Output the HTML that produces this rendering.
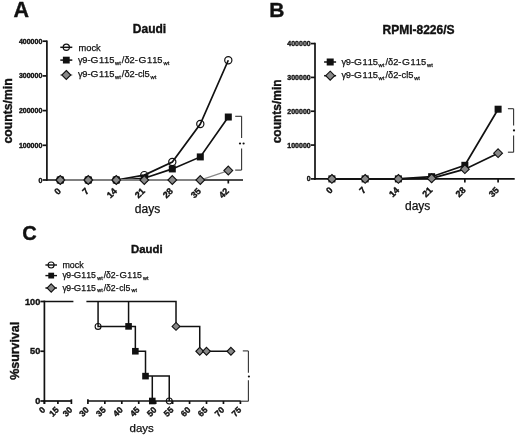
<!DOCTYPE html>
<html><head><meta charset="utf-8"><style>
html,body{margin:0;padding:0;background:#fff;}
svg{display:block;will-change:transform;}
text{font-family:"Liberation Sans",sans-serif;fill:#111;}
.lg{font-kerning:none;}
text{stroke:#111;stroke-width:0.25px;}
text[font-weight=bold]{stroke-width:0.38px;}
</style></head><body>
<svg width="520" height="438" viewBox="0 0 520 438">
<rect width="520" height="438" fill="#fff"/>
<text x="13.60" y="17.20" font-size="21.5" font-weight="bold" text-anchor="start" >A</text>
<text x="149.50" y="33.10" font-size="12" font-weight="bold" text-anchor="middle" >Daudi</text>
<line x1="46.90" y1="40.40" x2="46.90" y2="180.80" stroke="#111" stroke-width="1.7" stroke-linecap="butt"/>
<line x1="42.60" y1="180.00" x2="46.90" y2="180.00" stroke="#111" stroke-width="1.7" stroke-linecap="butt"/>
<text x="42.30" y="182.50" font-size="7" font-weight="bold" text-anchor="end" >0</text>
<line x1="42.60" y1="145.30" x2="46.90" y2="145.30" stroke="#111" stroke-width="1.7" stroke-linecap="butt"/>
<text x="42.30" y="147.80" font-size="7" font-weight="bold" text-anchor="end" >100000</text>
<line x1="42.60" y1="110.60" x2="46.90" y2="110.60" stroke="#111" stroke-width="1.7" stroke-linecap="butt"/>
<text x="42.30" y="113.10" font-size="7" font-weight="bold" text-anchor="end" >200000</text>
<line x1="42.60" y1="75.90" x2="46.90" y2="75.90" stroke="#111" stroke-width="1.7" stroke-linecap="butt"/>
<text x="42.30" y="78.40" font-size="7" font-weight="bold" text-anchor="end" >300000</text>
<line x1="42.60" y1="41.20" x2="46.90" y2="41.20" stroke="#111" stroke-width="1.7" stroke-linecap="butt"/>
<text x="42.30" y="43.70" font-size="7" font-weight="bold" text-anchor="end" >400000</text>
<line x1="46.00" y1="180.00" x2="243.00" y2="180.00" stroke="#111" stroke-width="1.7" stroke-linecap="butt"/>
<line x1="60.30" y1="180.00" x2="60.30" y2="183.50" stroke="#111" stroke-width="1.7" stroke-linecap="butt"/>
<text transform="translate(61.60,191.60) rotate(-45)" font-size="9" font-weight="bold" text-anchor="end">0</text>
<line x1="88.30" y1="180.00" x2="88.30" y2="183.50" stroke="#111" stroke-width="1.7" stroke-linecap="butt"/>
<text transform="translate(89.60,191.60) rotate(-45)" font-size="9" font-weight="bold" text-anchor="end">7</text>
<line x1="116.30" y1="180.00" x2="116.30" y2="183.50" stroke="#111" stroke-width="1.7" stroke-linecap="butt"/>
<text transform="translate(117.60,191.60) rotate(-45)" font-size="9" font-weight="bold" text-anchor="end">14</text>
<line x1="144.30" y1="180.00" x2="144.30" y2="183.50" stroke="#111" stroke-width="1.7" stroke-linecap="butt"/>
<text transform="translate(145.60,191.60) rotate(-45)" font-size="9" font-weight="bold" text-anchor="end">21</text>
<line x1="172.30" y1="180.00" x2="172.30" y2="183.50" stroke="#111" stroke-width="1.7" stroke-linecap="butt"/>
<text transform="translate(173.60,191.60) rotate(-45)" font-size="9" font-weight="bold" text-anchor="end">28</text>
<line x1="200.30" y1="180.00" x2="200.30" y2="183.50" stroke="#111" stroke-width="1.7" stroke-linecap="butt"/>
<text transform="translate(201.60,191.60) rotate(-45)" font-size="9" font-weight="bold" text-anchor="end">35</text>
<line x1="228.30" y1="180.00" x2="228.30" y2="183.50" stroke="#111" stroke-width="1.7" stroke-linecap="butt"/>
<text transform="translate(229.60,191.60) rotate(-45)" font-size="9" font-weight="bold" text-anchor="end">42</text>
<text x="147.50" y="212.80" font-size="12" font-weight="normal" text-anchor="middle" >days</text>
<text transform="translate(12.3,110.95) rotate(-90)" font-size="12.25" font-weight="bold" text-anchor="middle">counts/min</text>
<polyline points="60.30,180.00 88.30,180.00 116.30,180.00 144.30,175.11 172.30,161.96 200.30,123.99 228.30,60.28" fill="none" stroke="#111" stroke-width="1.7" stroke-linejoin="miter"/>
<circle cx="60.30" cy="180.00" r="3.6" fill="none" stroke="#111" stroke-width="1.2"/>
<circle cx="88.30" cy="180.00" r="3.6" fill="none" stroke="#111" stroke-width="1.2"/>
<circle cx="116.30" cy="180.00" r="3.6" fill="none" stroke="#111" stroke-width="1.2"/>
<circle cx="144.30" cy="175.11" r="3.6" fill="none" stroke="#111" stroke-width="1.2"/>
<circle cx="172.30" cy="161.96" r="3.6" fill="none" stroke="#111" stroke-width="1.2"/>
<circle cx="200.30" cy="123.99" r="3.6" fill="none" stroke="#111" stroke-width="1.2"/>
<circle cx="228.30" cy="60.28" r="3.6" fill="none" stroke="#111" stroke-width="1.2"/>
<polyline points="60.30,180.00 88.30,180.00 116.30,180.00 144.30,178.26 172.30,168.93 200.30,156.92 228.30,117.02" fill="none" stroke="#111" stroke-width="1.7" stroke-linejoin="miter"/>
<rect x="56.80" y="176.50" width="7.0" height="7.0" fill="#111"/>
<rect x="84.80" y="176.50" width="7.0" height="7.0" fill="#111"/>
<rect x="112.80" y="176.50" width="7.0" height="7.0" fill="#111"/>
<rect x="140.80" y="174.76" width="7.0" height="7.0" fill="#111"/>
<rect x="168.80" y="165.43" width="7.0" height="7.0" fill="#111"/>
<rect x="196.80" y="153.42" width="7.0" height="7.0" fill="#111"/>
<rect x="224.80" y="113.52" width="7.0" height="7.0" fill="#111"/>
<line x1="60.30" y1="180.00" x2="200.30" y2="180.00" stroke="#888" stroke-width="1.6" stroke-linecap="butt"/>
<polyline points="60.30,180.00 88.30,180.00 116.30,180.00 144.30,180.00 172.30,180.00 200.30,180.00 228.30,170.53" fill="none" stroke="#888" stroke-width="1.3" stroke-linejoin="miter"/>
<path d="M60.30,175.60 L64.70,180.00 L60.30,184.40 L55.90,180.00Z" fill="#888" stroke="#111" stroke-width="1.1"/>
<path d="M88.30,175.60 L92.70,180.00 L88.30,184.40 L83.90,180.00Z" fill="#888" stroke="#111" stroke-width="1.1"/>
<path d="M116.30,175.60 L120.70,180.00 L116.30,184.40 L111.90,180.00Z" fill="#888" stroke="#111" stroke-width="1.1"/>
<path d="M144.30,175.60 L148.70,180.00 L144.30,184.40 L139.90,180.00Z" fill="#888" stroke="#111" stroke-width="1.1"/>
<path d="M172.30,175.60 L176.70,180.00 L172.30,184.40 L167.90,180.00Z" fill="#888" stroke="#111" stroke-width="1.1"/>
<path d="M200.30,175.60 L204.70,180.00 L200.30,184.40 L195.90,180.00Z" fill="#888" stroke="#111" stroke-width="1.1"/>
<path d="M228.30,166.13 L232.70,170.53 L228.30,174.93 L223.90,170.53Z" fill="#888" stroke="#111" stroke-width="1.1"/>
<line x1="235.20" y1="116.30" x2="241.60" y2="116.30" stroke="#333" stroke-width="1.1" stroke-linecap="butt"/>
<line x1="241.60" y1="116.30" x2="241.60" y2="138.00" stroke="#333" stroke-width="1.1" stroke-linecap="butt"/>
<line x1="241.60" y1="148.50" x2="241.60" y2="170.10" stroke="#333" stroke-width="1.1" stroke-linecap="butt"/>
<line x1="235.20" y1="170.10" x2="241.60" y2="170.10" stroke="#333" stroke-width="1.1" stroke-linecap="butt"/>
<circle cx="240.0" cy="143.5" r="1.1" fill="#111"/>
<circle cx="243.6" cy="143.5" r="1.1" fill="#111"/>
<line x1="60.30" y1="47.30" x2="72.30" y2="47.30" stroke="#111" stroke-width="1.5" stroke-linecap="butt"/>
<circle cx="66.30" cy="47.30" r="3.1" fill="none" stroke="#111" stroke-width="1.2"/>
<line x1="60.30" y1="60.10" x2="72.30" y2="60.10" stroke="#111" stroke-width="1.5" stroke-linecap="butt"/>
<rect x="62.90" y="56.70" width="6.8" height="6.8" fill="#111"/>
<line x1="60.30" y1="75.00" x2="72.30" y2="75.00" stroke="#888" stroke-width="1.3" stroke-linecap="butt"/>
<path d="M66.30,70.50 L70.80,75.00 L66.30,79.50 L61.80,75.00Z" fill="#888" stroke="#111" stroke-width="1.1"/>
<text x="78.50" y="50.60" font-size="9.3" font-weight="normal" text-anchor="start" >mock</text>
<text x="77.90" y="63.30" font-size="9.3" class="lg"><tspan x="77.90">γ</tspan><tspan x="82.26">9-</tspan><tspan x="90.43" textLength="7.90" lengthAdjust="spacingAndGlyphs">G</tspan><tspan x="98.90">115</tspan><tspan x="115.00" y="64.60" font-size="5.8">wt</tspan><tspan x="121.80" y="63.30">/</tspan><tspan x="124.40">δ</tspan><tspan x="129.60">2-</tspan><tspan x="138.50" textLength="7.90" lengthAdjust="spacingAndGlyphs">G</tspan><tspan x="147.00">115</tspan><tspan x="163.50" y="64.60" font-size="5.8">wt</tspan></text>
<text x="77.90" y="77.40" font-size="9.3" class="lg"><tspan x="77.90">γ</tspan><tspan x="82.26">9-</tspan><tspan x="90.43" textLength="7.90" lengthAdjust="spacingAndGlyphs">G</tspan><tspan x="98.90">115</tspan><tspan x="115.00" y="78.70" font-size="5.8">wt</tspan><tspan x="121.80" y="77.40">/</tspan><tspan x="124.40">δ</tspan><tspan x="129.60">2-</tspan><tspan x="137.90">cl5</tspan><tspan x="150.60" y="78.70" font-size="5.8">wt</tspan></text>
<text x="269.30" y="17.20" font-size="21" font-weight="bold" text-anchor="start" >B</text>
<text x="418.50" y="34.20" font-size="12" font-weight="bold" text-anchor="middle" >RPMI-8226/S</text>
<line x1="315.00" y1="42.80" x2="315.00" y2="179.80" stroke="#111" stroke-width="1.7" stroke-linecap="butt"/>
<line x1="311.00" y1="178.90" x2="315.00" y2="178.90" stroke="#111" stroke-width="1.7" stroke-linecap="butt"/>
<text x="310.70" y="181.40" font-size="7" font-weight="bold" text-anchor="end" >0</text>
<line x1="311.00" y1="145.07" x2="315.00" y2="145.07" stroke="#111" stroke-width="1.7" stroke-linecap="butt"/>
<text x="310.70" y="147.57" font-size="7" font-weight="bold" text-anchor="end" >100000</text>
<line x1="311.00" y1="111.24" x2="315.00" y2="111.24" stroke="#111" stroke-width="1.7" stroke-linecap="butt"/>
<text x="310.70" y="113.74" font-size="7" font-weight="bold" text-anchor="end" >200000</text>
<line x1="311.00" y1="77.41" x2="315.00" y2="77.41" stroke="#111" stroke-width="1.7" stroke-linecap="butt"/>
<text x="310.70" y="79.91" font-size="7" font-weight="bold" text-anchor="end" >300000</text>
<line x1="311.00" y1="43.58" x2="315.00" y2="43.58" stroke="#111" stroke-width="1.7" stroke-linecap="butt"/>
<text x="310.70" y="46.08" font-size="7" font-weight="bold" text-anchor="end" >400000</text>
<line x1="314.10" y1="178.90" x2="514.70" y2="178.90" stroke="#111" stroke-width="1.7" stroke-linecap="butt"/>
<line x1="331.90" y1="178.90" x2="331.90" y2="182.40" stroke="#111" stroke-width="1.7" stroke-linecap="butt"/>
<text transform="translate(333.40,190.60) rotate(-45)" font-size="9" font-weight="bold" text-anchor="end">0</text>
<line x1="365.14" y1="178.90" x2="365.14" y2="182.40" stroke="#111" stroke-width="1.7" stroke-linecap="butt"/>
<text transform="translate(366.64,190.60) rotate(-45)" font-size="9" font-weight="bold" text-anchor="end">7</text>
<line x1="398.38" y1="178.90" x2="398.38" y2="182.40" stroke="#111" stroke-width="1.7" stroke-linecap="butt"/>
<text transform="translate(399.88,190.60) rotate(-45)" font-size="9" font-weight="bold" text-anchor="end">14</text>
<line x1="431.62" y1="178.90" x2="431.62" y2="182.40" stroke="#111" stroke-width="1.7" stroke-linecap="butt"/>
<text transform="translate(433.12,190.60) rotate(-45)" font-size="9" font-weight="bold" text-anchor="end">21</text>
<line x1="464.86" y1="178.90" x2="464.86" y2="182.40" stroke="#111" stroke-width="1.7" stroke-linecap="butt"/>
<text transform="translate(466.36,190.60) rotate(-45)" font-size="9" font-weight="bold" text-anchor="end">28</text>
<line x1="498.10" y1="178.90" x2="498.10" y2="182.40" stroke="#111" stroke-width="1.7" stroke-linecap="butt"/>
<text transform="translate(499.60,190.60) rotate(-45)" font-size="9" font-weight="bold" text-anchor="end">35</text>
<text x="417.70" y="210.20" font-size="12" font-weight="normal" text-anchor="middle" >days</text>
<text transform="translate(281.1,111.35) rotate(-90)" font-size="12.0" font-weight="bold" text-anchor="middle">counts/min</text>
<polyline points="331.90,178.90 365.14,178.90 398.38,178.90 431.62,176.70 464.86,165.30 498.10,109.21" fill="none" stroke="#111" stroke-width="1.7" stroke-linejoin="miter"/>
<rect x="328.40" y="175.40" width="7.0" height="7.0" fill="#111"/>
<rect x="361.64" y="175.40" width="7.0" height="7.0" fill="#111"/>
<rect x="394.88" y="175.40" width="7.0" height="7.0" fill="#111"/>
<rect x="428.12" y="173.20" width="7.0" height="7.0" fill="#111"/>
<rect x="461.36" y="161.80" width="7.0" height="7.0" fill="#111"/>
<rect x="494.60" y="105.71" width="7.0" height="7.0" fill="#111"/>
<polyline points="331.90,178.90 365.14,178.90 398.38,178.90 431.62,178.29 464.86,169.19 498.10,153.19" fill="none" stroke="#111" stroke-width="1.7" stroke-linejoin="miter"/>
<path d="M331.90,174.50 L336.30,178.90 L331.90,183.30 L327.50,178.90Z" fill="#888" stroke="#111" stroke-width="1.1"/>
<path d="M365.14,174.50 L369.54,178.90 L365.14,183.30 L360.74,178.90Z" fill="#888" stroke="#111" stroke-width="1.1"/>
<path d="M398.38,174.50 L402.78,178.90 L398.38,183.30 L393.98,178.90Z" fill="#888" stroke="#111" stroke-width="1.1"/>
<path d="M431.62,173.89 L436.02,178.29 L431.62,182.69 L427.22,178.29Z" fill="#888" stroke="#111" stroke-width="1.1"/>
<path d="M464.86,164.79 L469.26,169.19 L464.86,173.59 L460.46,169.19Z" fill="#888" stroke="#111" stroke-width="1.1"/>
<path d="M498.10,148.79 L502.50,153.19 L498.10,157.59 L493.70,153.19Z" fill="#888" stroke="#111" stroke-width="1.1"/>
<line x1="507.90" y1="108.70" x2="513.60" y2="108.70" stroke="#333" stroke-width="1.1" stroke-linecap="butt"/>
<line x1="513.60" y1="108.70" x2="513.60" y2="125.50" stroke="#333" stroke-width="1.1" stroke-linecap="butt"/>
<line x1="513.60" y1="135.50" x2="513.60" y2="152.20" stroke="#333" stroke-width="1.1" stroke-linecap="butt"/>
<line x1="507.90" y1="152.20" x2="513.60" y2="152.20" stroke="#333" stroke-width="1.1" stroke-linecap="butt"/>
<circle cx="514.0" cy="130.4" r="1.1" fill="#111"/>
<line x1="324.10" y1="62.00" x2="336.10" y2="62.00" stroke="#111" stroke-width="1.5" stroke-linecap="butt"/>
<rect x="326.70" y="58.50" width="7.0" height="7.0" fill="#111"/>
<line x1="324.10" y1="75.70" x2="336.10" y2="75.70" stroke="#111" stroke-width="1.5" stroke-linecap="butt"/>
<path d="M330.20,71.20 L334.70,75.70 L330.20,80.20 L325.70,75.70Z" fill="#888" stroke="#111" stroke-width="1.1"/>
<text x="341.50" y="65.20" font-size="9.3" class="lg"><tspan x="341.50">γ</tspan><tspan x="345.86">9-</tspan><tspan x="354.03" textLength="7.90" lengthAdjust="spacingAndGlyphs">G</tspan><tspan x="362.50">115</tspan><tspan x="378.60" y="66.50" font-size="5.8">wt</tspan><tspan x="385.40" y="65.20">/</tspan><tspan x="388.00">δ</tspan><tspan x="393.20">2-</tspan><tspan x="402.10" textLength="7.90" lengthAdjust="spacingAndGlyphs">G</tspan><tspan x="410.60">115</tspan><tspan x="427.10" y="66.50" font-size="5.8">wt</tspan></text>
<text x="341.50" y="78.30" font-size="9.3" class="lg"><tspan x="341.50">γ</tspan><tspan x="345.86">9-</tspan><tspan x="354.03" textLength="7.90" lengthAdjust="spacingAndGlyphs">G</tspan><tspan x="362.50">115</tspan><tspan x="378.60" y="79.60" font-size="5.8">wt</tspan><tspan x="385.40" y="78.30">/</tspan><tspan x="388.00">δ</tspan><tspan x="393.20">2-</tspan><tspan x="401.50">cl5</tspan><tspan x="414.20" y="79.60" font-size="5.8">wt</tspan></text>
<text x="22.20" y="239.50" font-size="20" font-weight="bold" text-anchor="start" >C</text>
<text x="146.80" y="252.70" font-size="11.4" font-weight="bold" text-anchor="middle" >Daudi</text>
<line x1="44.40" y1="300.60" x2="44.40" y2="404.00" stroke="#111" stroke-width="1.7" stroke-linecap="butt"/>
<line x1="40.40" y1="401.00" x2="44.40" y2="401.00" stroke="#111" stroke-width="1.7" stroke-linecap="butt"/>
<text x="40.30" y="404.00" font-size="9.2" font-weight="bold" text-anchor="end" >0</text>
<line x1="40.40" y1="351.25" x2="44.40" y2="351.25" stroke="#111" stroke-width="1.7" stroke-linecap="butt"/>
<text x="40.30" y="354.25" font-size="9.2" font-weight="bold" text-anchor="end" >50</text>
<line x1="40.40" y1="301.50" x2="44.40" y2="301.50" stroke="#111" stroke-width="1.7" stroke-linecap="butt"/>
<text x="40.30" y="304.50" font-size="9.2" font-weight="bold" text-anchor="end" >100</text>
<line x1="43.60" y1="401.00" x2="71.40" y2="401.00" stroke="#111" stroke-width="1.7" stroke-linecap="butt"/>
<line x1="44.40" y1="401.00" x2="44.40" y2="403.90" stroke="#111" stroke-width="1.7" stroke-linecap="butt"/>
<line x1="57.90" y1="401.00" x2="57.90" y2="403.90" stroke="#111" stroke-width="1.7" stroke-linecap="butt"/>
<line x1="71.40" y1="399.30" x2="71.40" y2="404.00" stroke="#111" stroke-width="1.7" stroke-linecap="butt"/>
<text transform="translate(45.90,410.40) rotate(-45)" font-size="8.6" font-weight="bold" text-anchor="end">0</text>
<text transform="translate(59.40,410.40) rotate(-45)" font-size="8.6" font-weight="bold" text-anchor="end">15</text>
<text transform="translate(72.90,410.40) rotate(-45)" font-size="8.6" font-weight="bold" text-anchor="end">30</text>
<line x1="87.90" y1="401.00" x2="240.80" y2="401.00" stroke="#111" stroke-width="1.7" stroke-linecap="butt"/>
<line x1="87.90" y1="399.30" x2="87.90" y2="404.00" stroke="#111" stroke-width="1.7" stroke-linecap="butt"/>
<line x1="104.84" y1="401.00" x2="104.84" y2="404.00" stroke="#111" stroke-width="1.7" stroke-linecap="butt"/>
<line x1="121.79" y1="401.00" x2="121.79" y2="404.00" stroke="#111" stroke-width="1.7" stroke-linecap="butt"/>
<line x1="138.74" y1="401.00" x2="138.74" y2="404.00" stroke="#111" stroke-width="1.7" stroke-linecap="butt"/>
<line x1="155.68" y1="401.00" x2="155.68" y2="404.00" stroke="#111" stroke-width="1.7" stroke-linecap="butt"/>
<line x1="172.62" y1="401.00" x2="172.62" y2="404.00" stroke="#111" stroke-width="1.7" stroke-linecap="butt"/>
<line x1="189.57" y1="401.00" x2="189.57" y2="404.00" stroke="#111" stroke-width="1.7" stroke-linecap="butt"/>
<line x1="206.51" y1="401.00" x2="206.51" y2="404.00" stroke="#111" stroke-width="1.7" stroke-linecap="butt"/>
<line x1="223.46" y1="401.00" x2="223.46" y2="404.00" stroke="#111" stroke-width="1.7" stroke-linecap="butt"/>
<line x1="240.41" y1="401.00" x2="240.41" y2="404.00" stroke="#111" stroke-width="1.7" stroke-linecap="butt"/>
<text transform="translate(89.40,410.40) rotate(-45)" font-size="8.6" font-weight="bold" text-anchor="end">30</text>
<text transform="translate(106.34,410.40) rotate(-45)" font-size="8.6" font-weight="bold" text-anchor="end">35</text>
<text transform="translate(123.29,410.40) rotate(-45)" font-size="8.6" font-weight="bold" text-anchor="end">40</text>
<text transform="translate(140.24,410.40) rotate(-45)" font-size="8.6" font-weight="bold" text-anchor="end">45</text>
<text transform="translate(157.18,410.40) rotate(-45)" font-size="8.6" font-weight="bold" text-anchor="end">50</text>
<text transform="translate(174.12,410.40) rotate(-45)" font-size="8.6" font-weight="bold" text-anchor="end">55</text>
<text transform="translate(191.07,410.40) rotate(-45)" font-size="8.6" font-weight="bold" text-anchor="end">60</text>
<text transform="translate(208.01,410.40) rotate(-45)" font-size="8.6" font-weight="bold" text-anchor="end">65</text>
<text transform="translate(224.96,410.40) rotate(-45)" font-size="8.6" font-weight="bold" text-anchor="end">70</text>
<text transform="translate(241.91,410.40) rotate(-45)" font-size="8.6" font-weight="bold" text-anchor="end">75</text>
<text x="141.70" y="431.90" font-size="11.5" font-weight="normal" text-anchor="middle" >days</text>
<text transform="translate(18.9,350.85) rotate(-90)" font-size="12.4" font-weight="bold" text-anchor="middle">%survival</text>
<polyline points="44.40,301.50 73.40,301.50" fill="none" stroke="#111" stroke-width="1.5" stroke-linejoin="miter"/>
<polyline points="86.40,301.50 176.01,301.50 176.01,326.38 199.74,326.38 199.74,351.25 230.92,351.25" fill="none" stroke="#111" stroke-width="1.5" stroke-linejoin="miter"/>
<polyline points="98.07,301.50 98.07,326.38 135.35,326.38 135.35,351.25 145.51,351.25 145.51,376.12 169.24,376.12 169.24,401.00" fill="none" stroke="#111" stroke-width="1.5" stroke-linejoin="miter"/>
<polyline points="128.57,301.50 128.57,326.38" fill="none" stroke="#111" stroke-width="1.5" stroke-linejoin="miter"/>
<polyline points="152.29,376.12 152.29,401.00" fill="none" stroke="#111" stroke-width="1.5" stroke-linejoin="miter"/>
<circle cx="98.07" cy="326.38" r="2.95" fill="none" stroke="#111" stroke-width="1.1"/>
<circle cx="169.24" cy="401.00" r="2.95" fill="none" stroke="#111" stroke-width="1.1"/>
<rect x="125.27" y="323.07" width="6.6" height="6.6" fill="#111"/>
<rect x="132.05" y="347.95" width="6.6" height="6.6" fill="#111"/>
<rect x="142.21" y="372.82" width="6.6" height="6.6" fill="#111"/>
<rect x="148.99" y="397.70" width="6.6" height="6.6" fill="#111"/>
<path d="M176.01,322.48 L179.91,326.38 L176.01,330.27 L172.11,326.38Z" fill="#888" stroke="#111" stroke-width="1.1"/>
<path d="M199.74,347.35 L203.64,351.25 L199.74,355.15 L195.84,351.25Z" fill="#888" stroke="#111" stroke-width="1.1"/>
<path d="M206.51,347.35 L210.41,351.25 L206.51,355.15 L202.61,351.25Z" fill="#888" stroke="#111" stroke-width="1.1"/>
<path d="M230.92,347.35 L234.82,351.25 L230.92,355.15 L227.02,351.25Z" fill="#888" stroke="#111" stroke-width="1.1"/>
<line x1="242.80" y1="350.90" x2="248.40" y2="350.90" stroke="#333" stroke-width="1.1" stroke-linecap="butt"/>
<line x1="248.40" y1="350.90" x2="248.40" y2="372.80" stroke="#333" stroke-width="1.1" stroke-linecap="butt"/>
<line x1="248.40" y1="380.20" x2="248.40" y2="401.20" stroke="#333" stroke-width="1.1" stroke-linecap="butt"/>
<line x1="240.80" y1="401.20" x2="248.40" y2="401.20" stroke="#333" stroke-width="1.1" stroke-linecap="butt"/>
<circle cx="248.9" cy="376.5" r="1.1" fill="#111"/>
<line x1="45.40" y1="265.00" x2="57.00" y2="265.00" stroke="#111" stroke-width="1.4" stroke-linecap="butt"/>
<circle cx="51.10" cy="265.00" r="3.0" fill="none" stroke="#111" stroke-width="1.1"/>
<line x1="45.40" y1="275.60" x2="57.00" y2="275.60" stroke="#111" stroke-width="1.4" stroke-linecap="butt"/>
<rect x="48.30" y="272.70" width="5.8" height="5.8" fill="#111"/>
<line x1="45.40" y1="288.00" x2="57.00" y2="288.00" stroke="#111" stroke-width="1.4" stroke-linecap="butt"/>
<path d="M51.20,283.90 L55.30,288.00 L51.20,292.10 L47.10,288.00Z" fill="#888" stroke="#111" stroke-width="1.1"/>
<text x="62.40" y="267.60" font-size="8.9" font-weight="normal" text-anchor="start" >mock</text>
<text x="62.40" y="278.30" font-size="8.7" class="lg"><tspan x="62.40">γ</tspan><tspan x="66.30">9-</tspan><tspan x="73.70" textLength="7.39" lengthAdjust="spacingAndGlyphs">G</tspan><tspan x="81.30">115</tspan><tspan x="97.30" y="279.50" font-size="5.4">wt</tspan><tspan x="103.70" y="278.30">/</tspan><tspan x="106.05">δ</tspan><tspan x="110.80">2-</tspan><tspan x="119.40" textLength="7.39" lengthAdjust="spacingAndGlyphs">G</tspan><tspan x="127.30">115</tspan><tspan x="143.00" y="279.50" font-size="5.4">wt</tspan></text>
<text x="62.40" y="290.70" font-size="8.7" class="lg"><tspan x="62.40">γ</tspan><tspan x="66.30">9-</tspan><tspan x="73.70" textLength="7.39" lengthAdjust="spacingAndGlyphs">G</tspan><tspan x="81.30">115</tspan><tspan x="97.30" y="291.90" font-size="5.4">wt</tspan><tspan x="103.70" y="290.70">/</tspan><tspan x="106.05">δ</tspan><tspan x="110.80">2-</tspan><tspan x="119.20">cl5</tspan><tspan x="131.50" y="291.90" font-size="5.4">wt</tspan></text>
</svg>
</body></html>
